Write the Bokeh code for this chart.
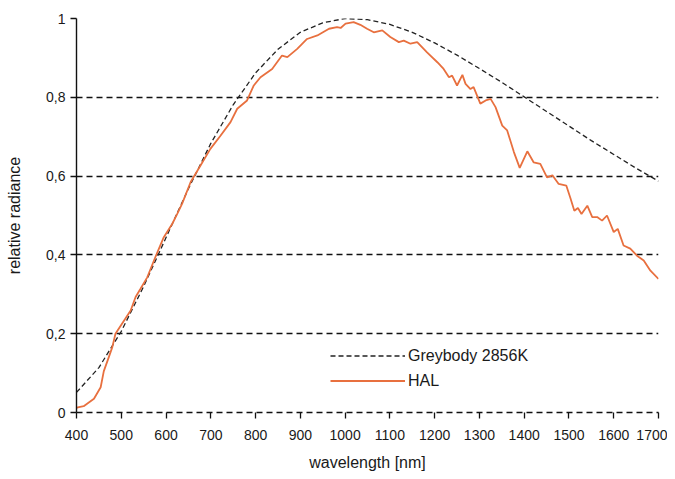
from bokeh.plotting import figure
from bokeh.models import Legend, LegendItem, FixedTicker, CustomJSTickFormatter, Range1d
from bokeh.embed import file_html
from bokeh.resources import INLINE

# Greybody 2856K (relative radiance)
grey_wl = [400, 450, 500, 550, 600, 650, 700, 750, 800, 850, 900, 950, 1000, 1050,
           1100, 1150, 1200, 1250, 1300, 1350, 1400, 1450, 1500, 1550, 1600, 1650, 1700]
grey_val = [0.051, 0.114, 0.206, 0.320, 0.444, 0.568, 0.683, 0.781, 0.862, 0.922, 0.965,
            0.989, 1.000, 0.997, 0.985, 0.965, 0.938, 0.907, 0.873, 0.838, 0.801, 0.764,
            0.727, 0.690, 0.655, 0.620, 0.587]

# HAL lamp (relative radiance)
hal_wl = [400, 403, 416, 439, 454, 461, 472, 480, 487, 506, 521, 532, 543, 558, 576, 595,
          614, 625, 636, 655, 677, 699, 722, 744, 759, 781, 796, 811, 837, 859, 871, 893,
          915, 938, 964, 982, 990, 1001, 1019, 1034, 1049, 1064, 1083, 1101, 1120, 1131,
          1146, 1161, 1183, 1206, 1220, 1232, 1239, 1250, 1262, 1269, 1280, 1287, 1302,
          1314, 1325, 1336, 1351, 1362, 1377, 1390, 1407, 1421, 1436, 1451, 1463, 1477,
          1494, 1503, 1512, 1520, 1528, 1541, 1552, 1563, 1574, 1585, 1600, 1609, 1622,
          1637, 1652, 1667, 1682, 1700]
hal_val = [0.012, 0.013, 0.016, 0.035, 0.064, 0.105, 0.140, 0.166, 0.200, 0.233, 0.259,
           0.293, 0.314, 0.343, 0.394, 0.445, 0.479, 0.504, 0.530, 0.585, 0.627, 0.669,
           0.703, 0.737, 0.771, 0.792, 0.830, 0.851, 0.872, 0.906, 0.902, 0.923, 0.948,
           0.957, 0.974, 0.978, 0.976, 0.987, 0.991, 0.984, 0.974, 0.965, 0.970, 0.953,
           0.940, 0.944, 0.936, 0.940, 0.914, 0.889, 0.872, 0.851, 0.855, 0.830, 0.857,
           0.834, 0.821, 0.826, 0.784, 0.792, 0.796, 0.775, 0.728, 0.716, 0.661, 0.621,
           0.663, 0.635, 0.631, 0.597, 0.602, 0.580, 0.576, 0.545, 0.512, 0.519, 0.504,
           0.525, 0.496, 0.496, 0.487, 0.500, 0.458, 0.466, 0.424, 0.416, 0.398, 0.386,
           0.360, 0.339]

x_ticks = [400, 500, 600, 700, 800, 900, 1000, 1100, 1200, 1300, 1400, 1500, 1600, 1700]
y_ticks = [0, 0.2, 0.4, 0.6, 0.8, 1.0]

FONT = "Liberation Sans"

p = figure(frame_width=582, frame_height=394,
           output_backend="svg", toolbar_location=None,
           x_range=Range1d(400, 1700), y_range=Range1d(0, 1),
           min_border_left=76, min_border_top=18, min_border_right=9, min_border_bottom=59)
p.outline_line_color = None
p.background_fill_color = "white"
p.border_fill_color = "white"

# grid
p.xgrid.visible = False
p.ygrid.ticker = FixedTicker(ticks=y_ticks)
p.ygrid.grid_line_color = "#111111"
p.ygrid.grid_line_width = 1.4
p.ygrid.grid_line_dash = "6 4"

# axes
p.xaxis.ticker = FixedTicker(ticks=x_ticks)
p.yaxis.ticker = FixedTicker(ticks=y_ticks)
p.yaxis.formatter = CustomJSTickFormatter(
    code="return (Math.round(tick*10)/10).toString().replace('.', ',');")
for ax in (p.xaxis[0], p.yaxis[0]):
    ax.major_tick_out = 6
    ax.major_tick_in = 0
    ax.minor_tick_out = 0
    ax.minor_tick_in = 0
    ax.major_tick_line_color = "#111111"
    ax.major_tick_line_width = 1.3
    ax.axis_line_color = "#111111"
    ax.axis_line_width = 1.4
    ax.major_label_text_font = FONT
    ax.major_label_text_font_size = "14px"
    ax.major_label_text_color = "#1a1a1a"
    ax.axis_label_text_font = FONT
    ax.axis_label_text_font_size = "16px"
    ax.axis_label_text_font_style = "normal"
    ax.axis_label_text_color = "#1a1a1a"
p.xaxis.axis_line_dash = "6 4"
p.xaxis.major_label_standoff = 11
p.xaxis.axis_label_standoff = 11
p.yaxis.major_label_standoff = 5
p.yaxis.axis_label_standoff = 20
p.xaxis.axis_label = "wavelength [nm]"
p.yaxis.axis_label = "relative radiance"

r_grey = p.line(grey_wl, grey_val, line_color="#222222", line_width=1.3, line_dash="5 3")
r_hal = p.line(hal_wl, hal_val, line_color="#e8703f", line_width=1.8)

legend = Legend(items=[LegendItem(label="Greybody 2856K", renderers=[r_grey]),
                       LegendItem(label="HAL", renderers=[r_hal])],
                location=(254, 19), orientation="vertical",
                glyph_width=75, glyph_height=25, label_height=25, label_standoff=3,
                spacing=0, padding=0, margin=0,
                border_line_color=None, background_fill_alpha=0,
                label_text_font=FONT, label_text_font_size="16px",
                label_text_color="#1a1a1a")
p.add_layout(legend, "center")

open("out.html", "w").write(file_html(p, INLINE))
